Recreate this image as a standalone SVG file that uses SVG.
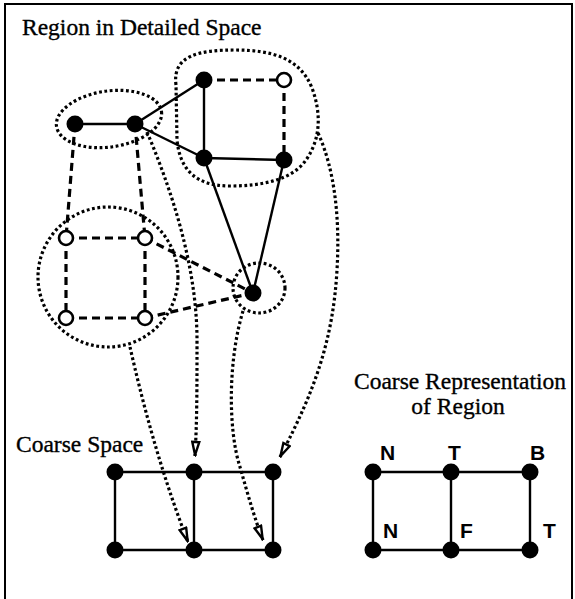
<svg xmlns="http://www.w3.org/2000/svg" width="575" height="599" viewBox="0 0 575 599">
<style>
.t{font-family:"Liberation Serif","Times New Roman",serif;font-size:23.5px;fill:#000;stroke:#000;stroke-width:0.35}
.lb{font-family:"Liberation Sans",Arial,sans-serif;font-size:21px;font-weight:bold;fill:#000}
.solid{stroke:#000;stroke-width:2.4;fill:none}
.dash{stroke:#000;stroke-width:3.2;fill:none;stroke-dasharray:8 5}
.dot{stroke:#000;stroke-width:3.2;fill:none;stroke-dasharray:2.8 2.6}
.fn{fill:#000}
.on{fill:#fff;stroke:#000;stroke-width:2.6}
</style>
<defs>
<marker id="ah" viewBox="0 0 16 10" refX="15.5" refY="5" markerWidth="16" markerHeight="10" markerUnits="userSpaceOnUse" orient="auto">
<path d="M1.5,1.5 L14.5,5 L1.5,8.5 Z" fill="#fff" stroke="#000" stroke-width="2.4" stroke-linejoin="miter"/>
</marker>
</defs>
<rect width="575" height="599" fill="#fff"/>
<rect id="frame" x="5" y="4" width="567" height="610" fill="none" stroke="#000" stroke-width="2"/>
<text class="t" x="22" y="35">Region in Detailed Space</text>
<text class="t" x="16" y="452">Coarse Space</text>
<text class="t" x="460" y="389" text-anchor="middle">Coarse Representation</text>
<text class="t" x="458" y="414" text-anchor="middle">of Region</text>

<g id="regions">
<ellipse class="dot" cx="109" cy="119" rx="53" ry="28" transform="rotate(-8 109 119)"/>
<path class="dot" d="M176,85 C172,55 200,50 235,50 C272,50 300,58 312,88 C322,115 320,140 306,160 C292,180 262,186 230,186 C196,186 180,170 177,140 Z"/>
<circle class="dot" cx="108" cy="277" r="70"/>
<ellipse class="dot" cx="259" cy="288" rx="26" ry="25"/>
</g>

<g id="connectors">
<line class="solid" x1="75" y1="124" x2="135" y2="124"/>
<line class="solid" x1="135" y1="124" x2="204" y2="80"/>
<line class="solid" x1="135" y1="124" x2="204" y2="158"/>
<line class="solid" x1="204" y1="80" x2="204" y2="158"/>
<line class="solid" x1="204" y1="158" x2="284" y2="160"/>
<line class="solid" x1="204" y1="158" x2="253" y2="293"/>
<line class="solid" x1="284" y1="160" x2="253" y2="293"/>
<line class="dash" x1="204" y1="80" x2="284" y2="80"/>
<line class="dash" x1="284" y1="80" x2="284" y2="160"/>
<line class="dash" x1="75" y1="124" x2="66" y2="238"/>
<line class="dash" x1="135" y1="124" x2="145" y2="238"/>
<line class="dash" x1="66" y1="238" x2="145" y2="238"/>
<line class="dash" x1="66" y1="318" x2="145" y2="318"/>
<line class="dash" x1="66" y1="238" x2="66" y2="318"/>
<line class="dash" x1="145" y1="238" x2="145" y2="318"/>
<line class="dash" x1="145" y1="238" x2="253" y2="293"/>
<line class="dash" x1="145" y1="318" x2="253" y2="293"/>

<path class="dot" d="M147,132 C180,210 197,280 197,340 C197,390 197,420 195,456" marker-end="url(#ah)"/>
<path class="dot" d="M130,347 C142,400 160,470 188,542" marker-end="url(#ah)"/>
<path class="dot" d="M243,311 C228,360 228,430 240,467 C248,495 255,520 263,540" marker-end="url(#ah)"/>
<path class="dot" d="M318,133 C335,170 340,220 337,270 C333,340 315,390 280,457" marker-end="url(#ah)"/>

<line class="solid" x1="115" y1="472" x2="273" y2="472"/>
<line class="solid" x1="115" y1="550" x2="273" y2="550"/>
<line class="solid" x1="115" y1="472" x2="115" y2="550"/>
<line class="solid" x1="194" y1="472" x2="194" y2="550"/>
<line class="solid" x1="273" y1="472" x2="273" y2="550"/>

<line class="solid" x1="373" y1="472" x2="530" y2="472"/>
<line class="solid" x1="373" y1="550" x2="530" y2="550"/>
<line class="solid" x1="373" y1="472" x2="373" y2="550"/>
<line class="solid" x1="451" y1="472" x2="451" y2="550"/>
<line class="solid" x1="530" y1="472" x2="530" y2="550"/>
</g>

<g id="detailed-nodes">
<circle id="d1" class="fn" cx="75" cy="124" r="8.5"/>
<circle id="d2" class="fn" cx="135" cy="124" r="8.5"/>
<circle id="d3" class="fn" cx="204" cy="80" r="8.5"/>
<circle id="d4" class="on" cx="284" cy="80" r="7"/>
<circle id="d5" class="fn" cx="204" cy="158" r="8.5"/>
<circle id="d6" class="fn" cx="284" cy="160" r="8.5"/>
<circle id="d7" class="fn" cx="253" cy="293" r="8.5"/>
<circle id="d8" class="on" cx="66" cy="238" r="7"/>
<circle id="d9" class="on" cx="145" cy="238" r="7"/>
<circle id="d10" class="on" cx="66" cy="318" r="7"/>
<circle id="d11" class="on" cx="145" cy="318" r="7"/>
</g>

<g id="coarse-nodes">
<circle id="c1" class="fn" cx="115" cy="472" r="8.5"/>
<circle id="c2" class="fn" cx="194" cy="472" r="8.5"/>
<circle id="c3" class="fn" cx="273" cy="472" r="8.5"/>
<circle id="c4" class="fn" cx="115" cy="550" r="8.5"/>
<circle id="c5" class="fn" cx="194" cy="550" r="8.5"/>
<circle id="c6" class="fn" cx="273" cy="550" r="8.5"/>
</g>

<g id="rep-nodes">
<g id="r1"><circle class="fn" cx="373" cy="472" r="8.5"/><text class="lb" x="380" y="460">N</text></g>
<g id="r2"><circle class="fn" cx="451" cy="472" r="8.5"/><text class="lb" x="448" y="460">T</text></g>
<g id="r3"><circle class="fn" cx="530" cy="472" r="8.5"/><text class="lb" x="530" y="460">B</text></g>
<g id="r4"><circle class="fn" cx="373" cy="550" r="8.5"/><text class="lb" x="383" y="538">N</text></g>
<g id="r5"><circle class="fn" cx="451" cy="550" r="8.5"/><text class="lb" x="460" y="538">F</text></g>
<g id="r6"><circle class="fn" cx="530" cy="550" r="8.5"/><text class="lb" x="543" y="538">T</text></g>
</g>
</svg>
